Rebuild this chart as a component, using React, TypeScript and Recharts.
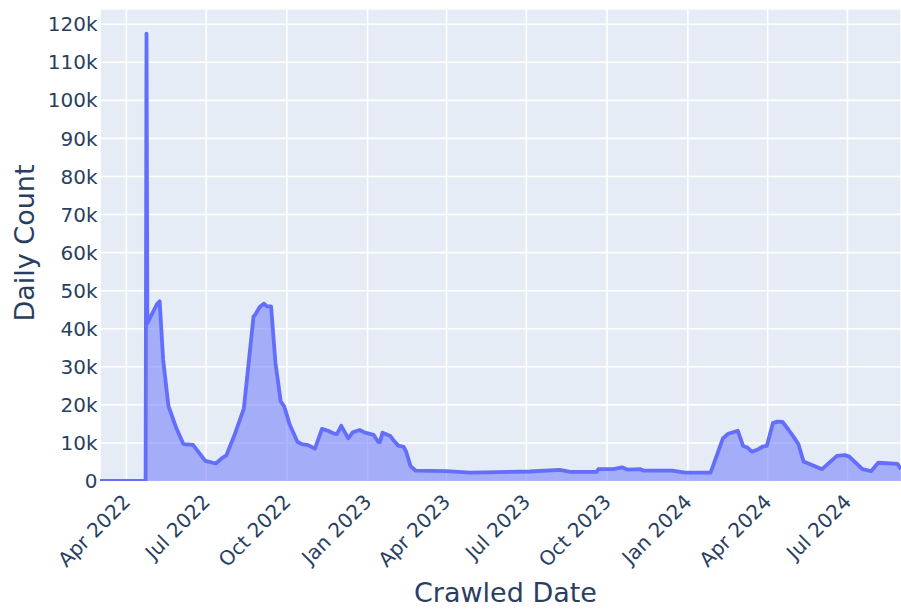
import React from "react";
import { AreaChart, Area, XAxis, YAxis, CartesianGrid, Label } from "recharts";

const dates: string[] = [
  "2022-03-02", "2022-04-23", "2022-04-24", "2022-04-25", "2022-05-06", "2022-05-09",
  "2022-05-13", "2022-05-19", "2022-05-28", "2022-06-05", "2022-06-16", "2022-06-30",
  "2022-07-12", "2022-07-19", "2022-07-24", "2022-08-03", "2022-08-13", "2022-08-24",
  "2022-08-26", "2022-08-31", "2022-09-05", "2022-09-08", "2022-09-13", "2022-09-18",
  "2022-09-24", "2022-09-28", "2022-10-04", "2022-10-13", "2022-10-18", "2022-10-24",
  "2022-10-27", "2022-11-02", "2022-11-10", "2022-11-17", "2022-11-23", "2022-11-27",
  "2022-12-02", "2022-12-10", "2022-12-15", "2022-12-23", "2022-12-29", "2023-01-08",
  "2023-01-13", "2023-01-15", "2023-01-18", "2023-01-27", "2023-02-01", "2023-02-05",
  "2023-02-11", "2023-02-14", "2023-02-19", "2023-02-25", "2023-04-01", "2023-04-28",
  "2023-07-05", "2023-08-08", "2023-08-20", "2023-09-19", "2023-09-21", "2023-10-08",
  "2023-10-18", "2023-10-24", "2023-11-08", "2023-11-12", "2023-12-14", "2023-12-29",
  "2024-01-27", "2024-02-10", "2024-02-16", "2024-02-27", "2024-03-04", "2024-03-09",
  "2024-03-14", "2024-03-20", "2024-03-26", "2024-03-31", "2024-04-07", "2024-04-12",
  "2024-04-18", "2024-04-25", "2024-04-30", "2024-05-06", "2024-05-12", "2024-06-02",
  "2024-06-19", "2024-06-28", "2024-07-03", "2024-07-18", "2024-07-28", "2024-08-05",
  "2024-08-27", "2024-08-31",
];

const dailyCount: number[] = [
  0, 0, 117500, 41500, 46500, 47200,
  31800, 19700, 13900, 9700, 9500, 5300,
  4600, 6000, 6700, 12500, 19100, 43200,
  43700, 45700, 46600, 45900, 45900, 31000,
  20900, 19600, 15000, 10300, 9700, 9500,
  9200, 8500, 13700, 13200, 12500, 12300,
  14500, 11200, 12800, 13400, 12700, 12100,
  10300, 10200, 12700, 11800, 10300, 9300,
  9000, 7700, 3900, 2700, 2600, 2200,
  2500, 2900, 2400, 2400, 3100, 3100,
  3600, 3000, 3100, 2700, 2700, 2200,
  2200, 11200, 12400, 13200, 9200, 8800,
  7700, 8200, 9000, 9200, 15200, 15600,
  15500, 13400, 11800, 9700, 5100, 3100,
  6600, 6800, 6400, 3100, 2600, 4800,
  4500, 3100,
];

const xTickDates: string[] = [
  "2022-04-01", "2022-07-01", "2022-10-01", "2023-01-01", "2023-04-01",
  "2023-07-01", "2023-10-01", "2024-01-01", "2024-04-01", "2024-07-01",
];
const xTickLabels: string[] = [
  "Apr 2022", "Jul 2022", "Oct 2022", "Jan 2023", "Apr 2023",
  "Jul 2023", "Oct 2023", "Jan 2024", "Apr 2024", "Jul 2024",
];
const xDomainDates: string[] = ["2022-03-02", "2024-08-31"];

const yTicks: number[] = [0, 10000, 20000, 30000, 40000, 50000, 60000, 70000, 80000, 90000, 100000, 110000, 120000];
const yMax = 124000;

const ts = (d: string) => new Date(d + "T00:00:00Z").getTime();

const data = dates.map((d, i) => ({ t: ts(d), v: dailyCount[i] }));
const xTicks = xTickDates.map(ts);
const labelMap: Record<number, string> = {};
xTicks.forEach((t, i) => (labelMap[t] = xTickLabels[i]));

const FONT = "'DejaVu Sans', Verdana, sans-serif";
const TEXT = "#2a3f5f";

const XTick = (props: any) => {
  const { x, payload } = props;
  const y = 498;
  return (
    <text
      x={x}
      y={y}
      dy="0.36em"
      textAnchor="end"
      transform={`rotate(-45, ${x}, ${y})`}
      fontSize={20}
      fontFamily={FONT}
      fill={TEXT}
    >
      {labelMap[payload.value]}
    </text>
  );
};

export default function App() {
  return (
    <div style={{ position: "absolute", left: 0, top: 0, width: 901, height: 609, background: "#fff" }}>
      <AreaChart width={901} height={609} data={data} margin={{ top: 9, right: 0, bottom: 0, left: 0 }}>
        <CartesianGrid fill="#E5ECF6" stroke="#ffffff" strokeWidth={1.6} />
        <XAxis
          dataKey="t"
          type="number"
          scale="time"
          domain={[ts(xDomainDates[0]), ts(xDomainDates[1])]}
          ticks={xTicks}
          interval={0}
          height={128}
          axisLine={false}
          tickLine={false}
          tick={<XTick />}
          allowDataOverflow
        >
          <Label
            content={() => (
              <text x={505.5} y={602} textAnchor="middle" fontSize={27} fontFamily={FONT} fill={TEXT}>
                Crawled Date
              </text>
            )}
          />
        </XAxis>
        <YAxis
          type="number"
          domain={[0, yMax]}
          ticks={yTicks}
          interval={0}
          width={100}
          axisLine={false}
          tickLine={false}
          tickSize={0}
          tickMargin={2.5}
          tickFormatter={(v: number) => (v === 0 ? "0" : `${v / 1000}k`)}
          tick={{ fontSize: 20, fontFamily: FONT, fill: TEXT }}
          allowDataOverflow
        >
          <Label
            content={() => (
              <text
                x={33.5}
                y={243}
                textAnchor="middle"
                transform="rotate(-90, 33.5, 243)"
                fontSize={27}
                fontFamily={FONT}
                fill={TEXT}
              >
                Daily Count
              </text>
            )}
          />
        </YAxis>
        <Area
          type="linear"
          dataKey="v"
          stroke="#636EFA"
          strokeWidth={3.8}
          strokeLinejoin="round"
          fill="#636EFA"
          fillOpacity={0.5}
          isAnimationActive={false}
          dot={false}
          activeDot={false}
        />
      </AreaChart>
    </div>
  );
}
